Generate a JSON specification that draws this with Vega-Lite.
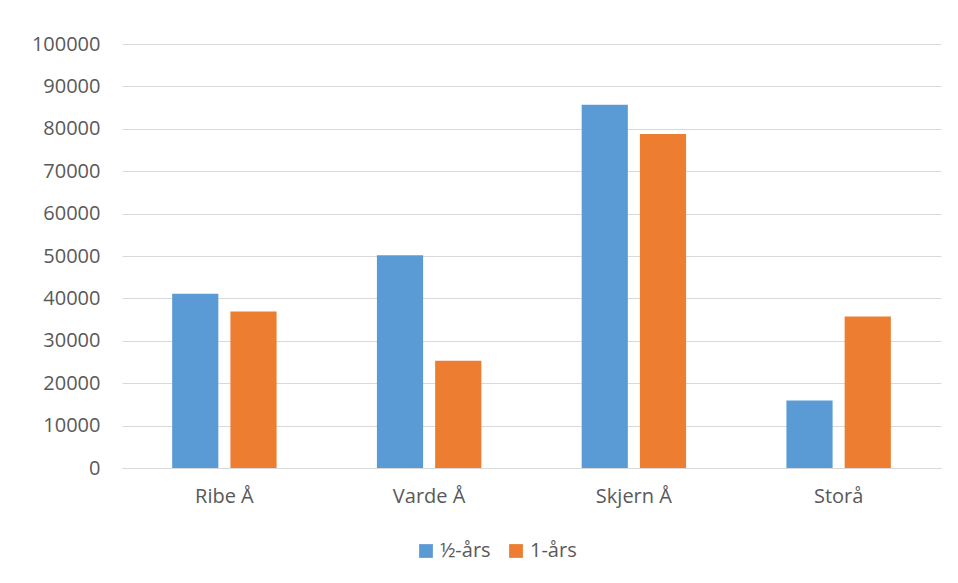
{
  "$schema": "https://vega.github.io/schema/vega-lite/v6.json",
  "width": 819,
  "height": 424,
  "autosize": "none",
  "padding": {"left": 122, "top": 44, "right": 17, "bottom": 115},
  "background": "white",
  "config": {
    "view": {"stroke": null},
    "font": "Open Sans"
  },
  "data": {
    "values": [
      {"station": "Ribe Å", "serie": "½-års", "value": 41100},
      {"station": "Ribe Å", "serie": "1-års", "value": 36900},
      {"station": "Varde Å", "serie": "½-års", "value": 50200},
      {"station": "Varde Å", "serie": "1-års", "value": 25300},
      {"station": "Skjern Å", "serie": "½-års", "value": 85700},
      {"station": "Skjern Å", "serie": "1-års", "value": 78800},
      {"station": "Storå", "serie": "½-års", "value": 15900},
      {"station": "Storå", "serie": "1-års", "value": 35750}
    ]
  },
  "mark": {"type": "bar"},
  "encoding": {
    "x": {
      "field": "station",
      "type": "nominal",
      "sort": ["Ribe Å", "Varde Å", "Skjern Å", "Storå"],
      "scale": {"paddingInner": 0.49, "paddingOuter": 0.245},
      "axis": {
        "title": null,
        "labelAngle": 0,
        "ticks": false,
        "domainColor": "#d9d9d9",
        "labelColor": "#595959",
        "labelFontSize": 20,
        "labelPadding": 18,
        "labelFont": "Open Sans"
      }
    },
    "xOffset": {
      "field": "serie",
      "type": "nominal",
      "sort": ["½-års", "1-års"],
      "scale": {"paddingInner": 0.207, "paddingOuter": 0}
    },
    "y": {
      "field": "value",
      "type": "quantitative",
      "scale": {"domain": [0, 100000], "nice": false},
      "axis": {
        "title": null,
        "values": [0, 10000, 20000, 30000, 40000, 50000, 60000, 70000, 80000, 90000, 100000],
        "format": "d",
        "domain": false,
        "ticks": false,
        "gridColor": "#d9d9d9",
        "labelColor": "#595959",
        "labelFontSize": 20,
        "labelPadding": 22,
        "labelFont": "Open Sans"
      }
    },
    "color": {
      "field": "serie",
      "type": "nominal",
      "sort": ["½-års", "1-års"],
      "scale": {"domain": ["½-års", "1-års"], "range": ["#5b9bd5", "#ed7d31"]},
      "legend": {
        "title": null,
        "orient": "none",
        "legendX": 294,
        "legendY": 497,
        "direction": "horizontal",
        "symbolType": "square",
        "symbolSize": 190,
        "symbolStrokeWidth": 0,
        "labelColor": "#595959",
        "labelFontSize": 20,
        "labelFont": "Open Sans",
        "labelOffset": 4,
        "columnPadding": 15
      }
    }
  }
}
